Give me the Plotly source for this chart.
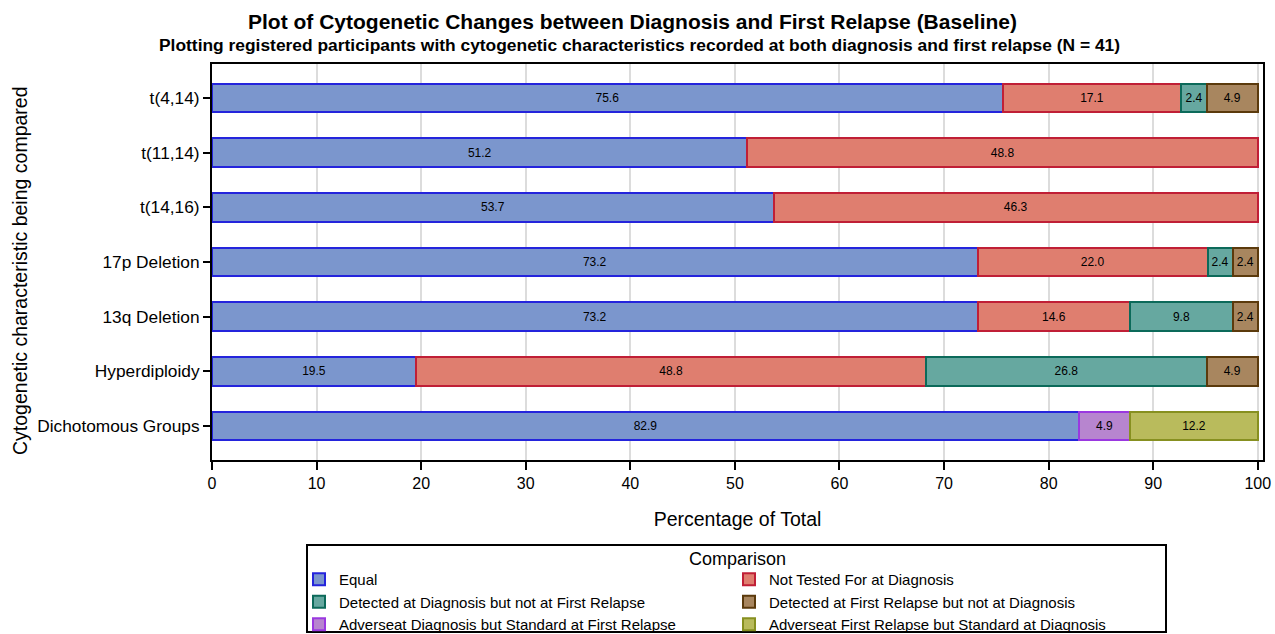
import plotly.graph_objects as go

# Categories (top to bottom)
categories = ["t(4,14)", "t(11,14)", "t(14,16)", "17p Deletion",
              "13q Deletion", "Hyperdiploidy", "Dichotomous Groups"]

equal = [75.6, 51.2, 53.7, 73.2, 73.2, 19.5, 82.9]
not_tested = [17.1, 48.8, 46.3, 22.0, 14.6, 48.8, None]
detected_dx = [2.4, None, None, 2.4, 9.8, 26.8, None]
detected_rel = [4.9, None, None, 2.4, 2.4, 4.9, None]
adverse_dx = [None, None, None, None, None, None, 4.9]
adverse_rel = [None, None, None, None, None, None, 12.2]

series = [
    ("Equal", equal, "#7b96cd", "#2424dc"),
    ("Not Tested For at Diagnosis", not_tested, "#df7e6f", "#c01f36"),
    ("Detected at Diagnosis but not at First Relapse", detected_dx, "#66a8a0", "#0c6a5a"),
    ("Detected at First Relapse but not at Diagnosis", detected_rel, "#a8865f", "#5b3a0c"),
    ("Adverseat Diagnosis but Standard at First Relapse", adverse_dx, "#b785cf", "#9a38e0"),
    ("Adverseat First Relapse but Standard at Diagnosis", adverse_rel, "#b9bb5c", "#879020"),
]

FONT = "Liberation Sans, Arial, sans-serif"
W, H = 1275, 634
L, R, T, B = 212, 12, 64, 174
PW, PH = W - L - R, H - T - B


def px_x(x):
    return (x - L) / PW


def px_y(y):
    return (H - B - y) / PH


fig = go.Figure()
for name, vals, fill, line in series:
    fig.add_trace(go.Bar(
        y=categories,
        x=vals,
        name=name,
        orientation="h",
        width=0.52,
        marker=dict(color=fill, line=dict(color=line, width=2)),
        text=[f"{v:.1f}" if v is not None else "" for v in vals],
        textposition="inside",
        insidetextanchor="middle",
        textangle=0,
        textfont=dict(size=12, color="black", family=FONT),
    ))

fig.update_layout(
    barmode="stack",
    width=W,
    height=H,
    plot_bgcolor="white",
    paper_bgcolor="white",
    font=dict(family=FONT, color="black"),
    margin=dict(l=L, r=R, t=T, b=B),
    uniformtext=dict(mode="show", minsize=12),
    xaxis=dict(
        range=[0, 100.5],
        tickvals=list(range(0, 101, 10)),
        showgrid=True, gridcolor="#dcdcdc", gridwidth=2,
        showline=True, linecolor="black", linewidth=2, mirror=True,
        ticks="outside", ticklen=8, tickwidth=2, tickcolor="black",
        tickfont=dict(size=16),
        title=dict(text="Percentage of Total", font=dict(size=19.5), standoff=21),
        zeroline=False,
        automargin=False,
    ),
    yaxis=dict(
        type="category",
        categoryorder="array",
        categoryarray=categories,
        range=[6.622, -0.622],
        showgrid=False,
        showline=True, linecolor="black", linewidth=2, mirror=True,
        ticks="outside", ticklen=7, tickwidth=2, tickcolor="black",
        tickfont=dict(size=17.3),
        automargin=False,
    ),
    legend=dict(
        orientation="h",
        xref="container", yref="container",
        x=299 / W, xanchor="left",
        y=(H - 563) / H, yanchor="top",
        entrywidth=385,
        borderwidth=0,
        bgcolor="rgba(0,0,0,0)",
        font=dict(size=15),
        traceorder="normal",
        tracegroupgap=0,
        itemwidth=30,
    ),
    showlegend=True,
)

# legend frame and title
fig.add_shape(
    type="rect", xref="paper", yref="paper",
    x0=px_x(307), x1=px_x(1166), y0=px_y(632), y1=px_y(545),
    line=dict(color="black", width=2), fillcolor="rgba(0,0,0,0)",
)
fig.add_annotation(
    text="Comparison",
    xref="paper", yref="paper", x=px_x(737), y=px_y(559),
    xanchor="center", yanchor="middle",
    showarrow=False, font=dict(size=18),
)

# y-axis title placed as an annotation
fig.add_annotation(
    text="Cytogenetic characteristic being compared",
    xref="paper", yref="paper", x=px_x(20), y=px_y(271),
    xanchor="center", yanchor="middle", textangle=-90,
    showarrow=False, font=dict(size=19.5),
)
fig.add_annotation(
    text="<b>Plot of Cytogenetic Changes between Diagnosis and First Relapse (Baseline)</b>",
    xref="paper", yref="paper", x=px_x(632), y=px_y(21),
    xanchor="center", yanchor="middle",
    showarrow=False, font=dict(size=21),
)
fig.add_annotation(
    text="<b>Plotting registered participants with cytogenetic characteristics recorded at both diagnosis and first relapse (N = 41)</b>",
    xref="paper", yref="paper", x=px_x(639), y=px_y(45),
    xanchor="center", yanchor="middle",
    showarrow=False, font=dict(size=17.4),
)

fig.write_html(
    "out.html",
    config={"displayModeBar": False},
    post_script="document.body.style.margin='0';",
)
